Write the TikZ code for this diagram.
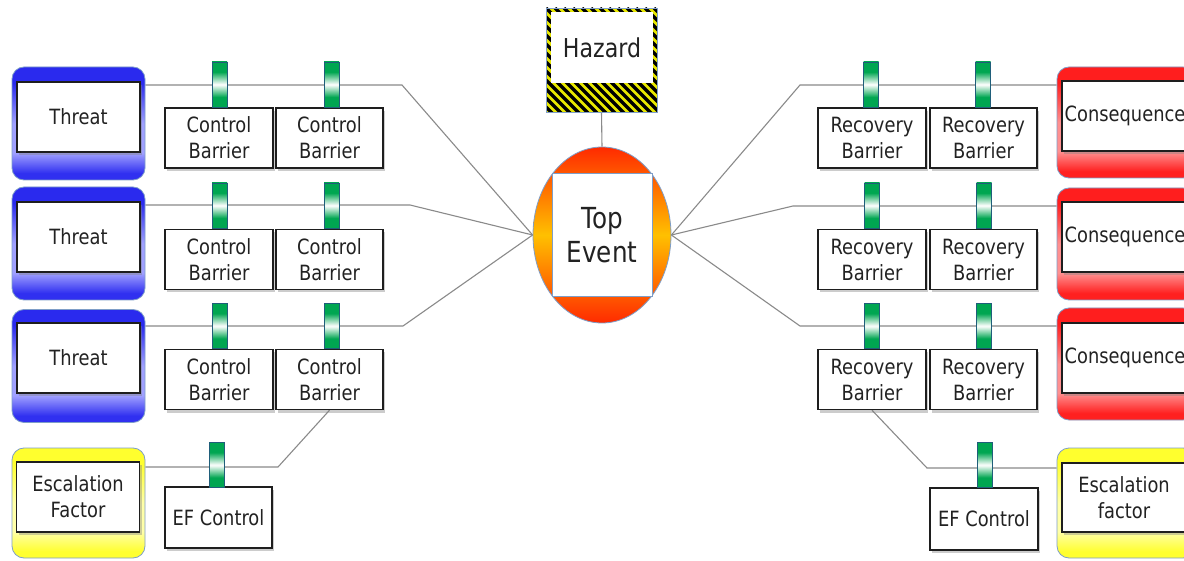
\documentclass[tikz,border=0pt]{standalone}
\usepackage{fontspec}
\setmainfont{DejaVu Sans}[FakeStretch=0.85]
\usetikzlibrary{shapes.geometric,shadows,backgrounds}

\definecolor{txt}{HTML}{222222}
\definecolor{boxline}{HTML}{1E1E1E}
\definecolor{edgeblue}{HTML}{7E9EC8}
\definecolor{linegray}{HTML}{8A8A8A}
\definecolor{gatebg}{HTML}{00A651}
\definecolor{gateline}{HTML}{1F5E7A}
\definecolor{bluetop}{HTML}{2A2AEE}
\definecolor{bluelight}{HTML}{A0A0FF}
\definecolor{bluebot}{HTML}{3030F0}
\definecolor{redtop}{HTML}{FF1E1E}
\definecolor{redlight}{HTML}{FF9090}
\definecolor{redbot}{HTML}{FF2020}
\definecolor{yeltop}{HTML}{FFFF2E}
\definecolor{yellight}{HTML}{FFFFA8}
\definecolor{yelbot}{HTML}{FFFF30}
\definecolor{hazyellow}{HTML}{E8E800}
\definecolor{tered}{HTML}{FF2A00}
\definecolor{teorange}{HTML}{FFC000}

\pgfdeclareverticalshading{blueshade}{100bp}{color(0bp)=(bluebot); color(25bp)=(bluebot); color(28bp)=(bluebot); color(37bp)=(bluelight); color(50bp)=(bluelight); color(68bp)=(bluetop); color(100bp)=(bluetop)}
\pgfdeclareverticalshading{redshade}{100bp}{color(0bp)=(redbot); color(25bp)=(redbot); color(28bp)=(redbot); color(37bp)=(redlight); color(50bp)=(redlight); color(68bp)=(redtop); color(100bp)=(redtop)}
\pgfdeclareverticalshading{yelshade}{100bp}{color(0bp)=(yelbot); color(25bp)=(yelbot); color(28bp)=(yelbot); color(37bp)=(yellight); color(50bp)=(yellight); color(68bp)=(yeltop); color(100bp)=(yeltop)}
\pgfdeclareverticalshading{gateshade}{100bp}{color(0bp)=(gatebg); color(25bp)=(gatebg); color(36bp)=(gatebg); color(50bp)=(white); color(64bp)=(gatebg); color(100bp)=(gatebg)}

\tikzset{
  outerbg/.style={rectangle, rounded corners=12pt, draw=edgeblue, line width=0.8pt,
    inner sep=0pt, minimum width=133pt, minimum height=113pt},
  threatbg/.style={outerbg, shade, shading=blueshade},
  conseqbg/.style={outerbg, shade, shading=redshade, minimum width=138pt},
  escbg/.style={outerbg, shade, shading=yelshade},
  innerbox/.style={rectangle, draw=boxline, line width=1.4pt, fill=white, inner sep=0pt,
    align=center, text=txt, font=\fontsize{21}{26}\selectfont,
    drop shadow={shadow xshift=2pt, shadow yshift=-3pt, opacity=0.4}},
  sidebox/.style={innerbox, minimum width=123pt, minimum height=70pt},
  barrierbox/.style={innerbox, minimum width=107pt, minimum height=60pt},
  gate/.style={rectangle, draw=gateline, line width=0.7pt, shade, shading=gateshade,
    minimum width=15pt, minimum height=45pt, inner sep=0pt},
  link/.style={draw=linegray, line width=1.1pt},
  hazardframe/.style={rectangle, minimum width=111pt, minimum height=104pt, inner sep=0pt,
    fill=hazyellow, draw=edgeblue, line width=0.6pt,
    path picture={\foreach \k in {-13,...,13}{\draw[line width=3.2pt,black]
      ([xshift=\k*9pt]path picture bounding box.north west) -- ++(130,130);}}},
}

\begin{document}
\begin{tikzpicture}[x=1pt,y=-1pt]
\useasboundingbox (0,0) rectangle (1184,561);
\clip (0,0) rectangle (1184,561);

% ---------- Hazard & Top event ----------
\node[hazardframe] (hzf) at (601.5,60) {};
\node[rectangle, fill=white, inner sep=0pt, minimum width=102pt, minimum height=71pt,
  text=txt, font=\fontsize{26}{30}\selectfont] (hz) at (602,47.5) {Hazard};
\node[ellipse, minimum width=138pt, minimum height=176pt, inner sep=0pt, draw=edgeblue,
  line width=0.8pt, top color=tered, bottom color=tered, middle color=teorange] (te) at (602,235) {};
\node[rectangle, fill=white, draw=edgeblue, line width=0.8pt, inner sep=0pt,
  minimum width=100pt, minimum height=123pt, align=center, text=txt,
  font=\fontsize{29}{34}\selectfont] (tebox) at (602,235) {Top\\Event};

% ---------- Threats ----------
\node[threatbg] (t1bg) at (78.5,123.5) {};
\node[sidebox] (t1) at (78.5,117) {Threat};
\node[threatbg] (t2bg) at (78.5,243.5) {};
\node[sidebox] (t2) at (78.5,237) {Threat};
\node[threatbg] (t3bg) at (78.5,366) {};
\node[sidebox] (t3) at (78.5,358) {Threat};
\node[escbg, minimum height=110pt] (e1bg) at (78.5,503) {};
\node[sidebox] (e1) at (78,497) {Escalation\\Factor};

% ---------- Control barriers ----------
\node[barrierbox, minimum width=108pt] (c11) at (219,138) {Control\\Barrier};
\node[barrierbox] (c12) at (329.5,138) {Control\\Barrier};
\node[barrierbox, minimum width=108pt] (c21) at (219,259.5) {Control\\Barrier};
\node[barrierbox] (c22) at (329.5,259.5) {Control\\Barrier};
\node[barrierbox, minimum width=108pt] (c31) at (219,379.5) {Control\\Barrier};
\node[barrierbox] (c32) at (329.5,379.5) {Control\\Barrier};
\node[barrierbox, minimum height=61pt] (ef1) at (218.5,517.5) {EF Control};

% ---------- Recovery barriers ----------
\node[barrierbox, minimum width=108pt] (r11) at (872,138) {Recovery\\Barrier};
\node[barrierbox] (r12) at (983.5,138) {Recovery\\Barrier};
\node[barrierbox, minimum width=108pt] (r21) at (872,259.5) {Recovery\\Barrier};
\node[barrierbox] (r22) at (983.5,259.5) {Recovery\\Barrier};
\node[barrierbox, minimum width=108pt] (r31) at (872,379.5) {Recovery\\Barrier};
\node[barrierbox] (r32) at (983.5,379.5) {Recovery\\Barrier};
\node[barrierbox, minimum width=108pt, minimum height=62pt] (ef2) at (984,519) {EF Control};

% ---------- Consequences ----------
\node[conseqbg, minimum height=111pt] (q1bg) at (1126,122.5) {};
\node[sidebox, minimum width=124pt] (q1) at (1124,116) {\hspace*{2pt}Consequence};
\node[conseqbg, minimum height=112pt] (q2bg) at (1126,244) {};
\node[sidebox, minimum width=124pt] (q2) at (1124,237) {\hspace*{2pt}Consequence};
\node[conseqbg, minimum height=112pt] (q3bg) at (1126,364) {};
\node[sidebox, minimum width=124pt] (q3) at (1124,358) {\hspace*{2pt}Consequence};
\node[escbg, minimum width=138pt, minimum height=110pt] (e2bg) at (1126,503) {};
\node[sidebox, minimum width=124pt, minimum height=69pt] (e2) at (1124,497.5) {Escalation\\factor};

% ---------- Bend points ----------
\coordinate (bl1) at (402,85);
\coordinate (bl2) at (410,205);
\coordinate (bl3) at (403,326);
\coordinate (be1) at (278,467);
\coordinate (br1) at (800,85);
\coordinate (br2) at (793,206);
\coordinate (br3) at (800,326);
\coordinate (be2) at (927,468);

% ---------- Gates (barrier markers) ----------
\node[gate] (g11) at (219.5,84.5) {};
\node[gate] (g12) at (331.5,84.5) {};
\node[gate] (g21) at (219.5,205.5) {};
\node[gate] (g22) at (331.5,205.5) {};
\node[gate] (g31) at (219.5,326) {};
\node[gate] (g32) at (331.5,326) {};
\node[gate] (gef1) at (217,465) {};
\node[gate] (h11) at (871,84.5) {};
\node[gate] (h12) at (983,84.5) {};
\node[gate] (h21) at (872,205.5) {};
\node[gate] (h22) at (984,205.5) {};
\node[gate] (h31) at (872,326) {};
\node[gate] (h32) at (984,326) {};
\node[gate] (gef2) at (985,465) {};

% ---------- Connectors ----------
\begin{scope}[on background layer]
  \fill[white] (0,0) rectangle (1184,561);
  \draw[link] (hzf.south) -- (te.north);
  \draw[link] (t1bg.east |- bl1) -- (bl1) -- (te.west);
  \draw[link] (t2bg.east |- bl2) -- (bl2) -- (te.west);
  \draw[link] (t3bg.east |- bl3) -- (bl3) -- (te.west);
  \draw[link] (e1bg.east |- be1) -- (be1) -- (c32.south);
  \draw[link] (te.east) -- (br1) -- (q1bg.west |- br1);
  \draw[link] (te.east) -- (br2) -- (q2bg.west |- br2);
  \draw[link] (te.east) -- (br3) -- (q3bg.west |- br3);
  \draw[link] (r31.south) -- (be2) -- (e2bg.west |- be2);
\end{scope}
\end{tikzpicture}
\end{document}
